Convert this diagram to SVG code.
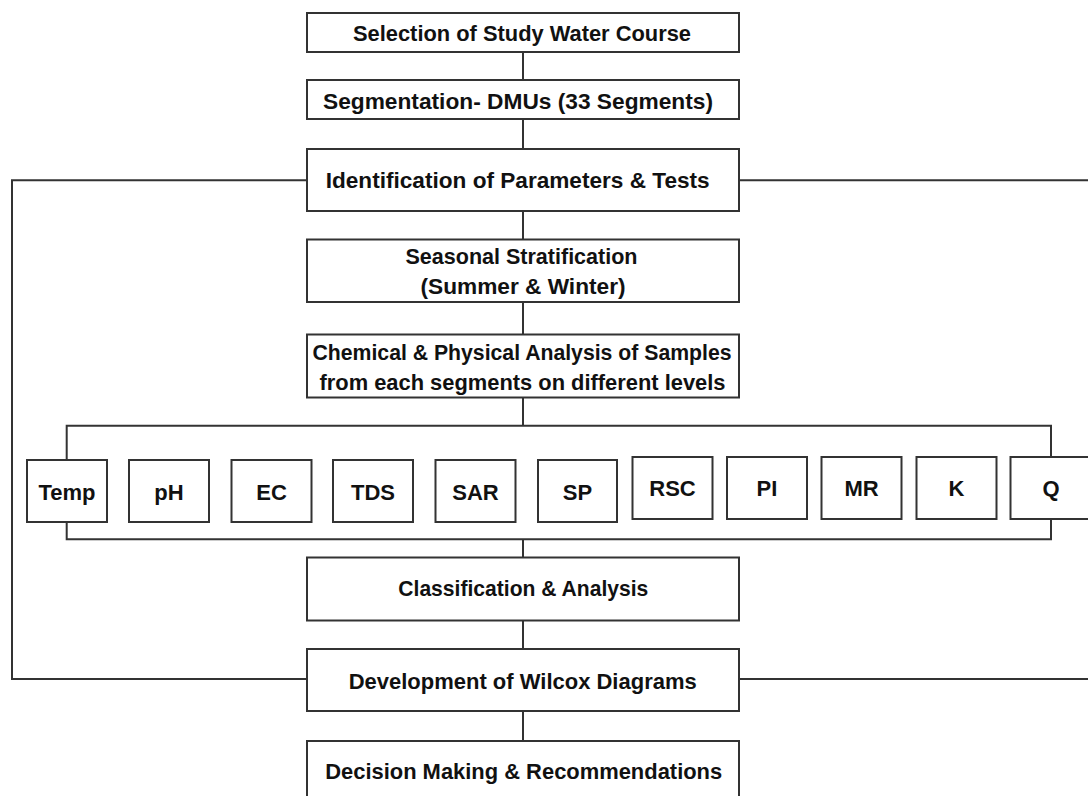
<svg xmlns="http://www.w3.org/2000/svg" width="1088" height="796" viewBox="0 0 1088 796">
<style>
.box{fill:#fff;stroke:#333;stroke-width:2}
.lbl{font-family:"Liberation Sans",Arial,sans-serif;font-weight:bold;font-size:22px;fill:#111;text-anchor:middle}
.con{fill:none;stroke:#333;stroke-width:2}
</style>
<rect width="1088" height="796" fill="#fff"/>
<g id="connectors">
<path class="con" d="M523 51.7V80M523 119.3V149M523 210.7V239.5M523 302V334.5M523 397.5V425.7M523 539.3V557.5M523 620.5V649M523 711V741"/>
<path class="con" d="M66.7 460V425.7H1051V457"/>
<path class="con" d="M66.7 522V539.3H1051V519"/>
<path class="con" d="M307 180.3H12V679H307"/>
<path class="con" d="M739 180.3H1090M739 679H1090"/>
</g>
<g id="selection"><rect class="box" x="307" y="13" width="432" height="39"/><text class="lbl" x="522" y="41" textLength="338" lengthAdjust="spacingAndGlyphs">Selection of Study Water Course</text></g>
<g id="segmentation"><rect class="box" x="307" y="80" width="432" height="39"/><text class="lbl" x="518" y="108.5" textLength="390" lengthAdjust="spacingAndGlyphs">Segmentation- DMUs (33 Segments)</text></g>
<g id="identification"><rect class="box" x="307" y="149" width="432" height="62"/><text class="lbl" x="517.7" y="187.5" textLength="384" lengthAdjust="spacingAndGlyphs">Identification of Parameters &amp; Tests</text></g>
<g id="seasonal"><rect class="box" x="307" y="239.5" width="432" height="62.5"/><text class="lbl" x="521.5" y="263.5" textLength="232" lengthAdjust="spacingAndGlyphs">Seasonal Stratification</text><text class="lbl" x="523" y="294" textLength="205" lengthAdjust="spacingAndGlyphs">(Summer &amp; Winter)</text></g>
<g id="chemical"><rect class="box" x="307" y="334.5" width="432" height="63"/><text class="lbl" x="522" y="359.5" textLength="419" lengthAdjust="spacingAndGlyphs">Chemical &amp; Physical Analysis of Samples</text><text class="lbl" x="522.5" y="389.5" textLength="406" lengthAdjust="spacingAndGlyphs">from each segments on different levels</text></g>
<g id="temp"><rect class="box" x="27" y="460" width="80" height="62"/><text class="lbl" x="67" y="499.5">Temp</text></g>
<g id="ph"><rect class="box" x="129" y="460" width="80" height="62"/><text class="lbl" x="169" y="499.5">pH</text></g>
<g id="ec"><rect class="box" x="231.5" y="460" width="80" height="62"/><text class="lbl" x="271.5" y="499.5">EC</text></g>
<g id="tds"><rect class="box" x="333" y="460" width="80" height="62"/><text class="lbl" x="373" y="499.5">TDS</text></g>
<g id="sar"><rect class="box" x="435.5" y="460" width="80" height="62"/><text class="lbl" x="475.5" y="499.5">SAR</text></g>
<g id="sp"><rect class="box" x="538" y="460" width="79" height="62"/><text class="lbl" x="577.5" y="499.5">SP</text></g>
<g id="rsc"><rect class="box" x="632.5" y="457" width="80" height="62"/><text class="lbl" x="672.5" y="496">RSC</text></g>
<g id="pi"><rect class="box" x="727" y="457" width="80" height="62"/><text class="lbl" x="767" y="496">PI</text></g>
<g id="mr"><rect class="box" x="821.5" y="457" width="80" height="62"/><text class="lbl" x="861.5" y="496">MR</text></g>
<g id="k"><rect class="box" x="916.5" y="457" width="80" height="62"/><text class="lbl" x="956.5" y="496">K</text></g>
<g id="q"><rect class="box" x="1010.5" y="457" width="80" height="62"/><text class="lbl" x="1051" y="496">Q</text></g>
<g id="classification"><rect class="box" x="307" y="557.5" width="432" height="63"/><text class="lbl" x="523.3" y="596" textLength="250" lengthAdjust="spacingAndGlyphs">Classification &amp; Analysis</text></g>
<g id="development"><rect class="box" x="307" y="649" width="432" height="62"/><text class="lbl" x="522.7" y="688.5" textLength="348" lengthAdjust="spacingAndGlyphs">Development of Wilcox Diagrams</text></g>
<g id="decision"><rect class="box" x="307" y="741" width="432" height="70"/><text class="lbl" x="523.7" y="779" textLength="397" lengthAdjust="spacingAndGlyphs">Decision Making &amp; Recommendations</text></g>
</svg>
